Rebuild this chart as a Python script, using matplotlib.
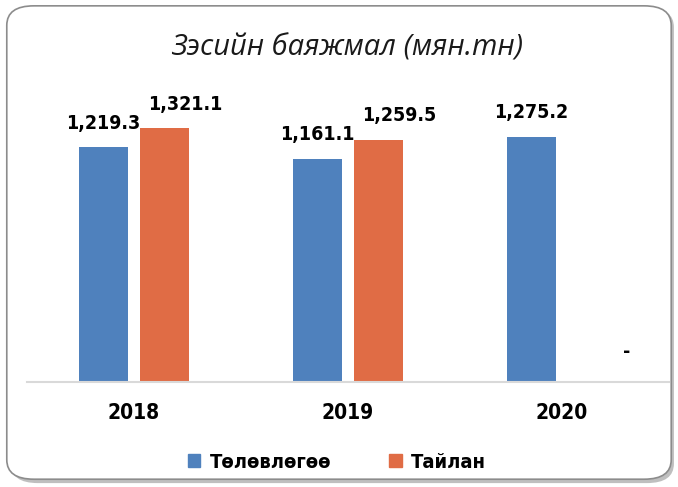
import matplotlib.pyplot as plt
import numpy as np
from matplotlib.patches import FancyBboxPatch, Patch

# data
years = ['2018', '2019', '2020']
plan = [1219.3, 1161.1, 1275.2]
report = [1321.1, 1259.5, 0.0]
report_labels = ['1,321.1', '1,259.5', '-']
plan_labels = ['1,219.3', '1,161.1', '1,275.2']

blue = '#4F81BD'
orange = '#E06C45'
font = ['DejaVu Sans']
cond = 'condensed'

fig = plt.figure(figsize=(6.78, 4.87), dpi=100)

# rounded frame with soft shadow
shadow = FancyBboxPatch((0.016, 0.008), 0.978, 0.976, boxstyle='round,pad=0,rounding_size=0.04',
                        transform=fig.transFigure, facecolor='#BFBFBF', edgecolor='none', zorder=-2)
frame = FancyBboxPatch((0.010, 0.016), 0.980, 0.972, boxstyle='round,pad=0,rounding_size=0.04',
                       transform=fig.transFigure, facecolor='white', edgecolor='#8C8C8C', lw=1.2, zorder=-1)
fig.patches.extend([shadow, frame])

ax = fig.add_axes([0.0398, 0.2156, 0.9469, 0.6324])
ax.set_zorder(2)
ax.set_facecolor('none')
x = np.arange(len(years))
w = 0.23
off = 0.142
ax.bar(x - off, plan, w, color=blue, zorder=2)
ax.bar(x + off, report, w, color=orange, zorder=2)

for i in range(len(years)):
    ax.annotate(plan_labels[i], (x[i] - off, plan[i]), xytext=(0, 17), textcoords='offset points',
                ha='center', va='center', fontsize=14, fontweight='bold', family=font, fontstretch=cond)
    dx = 25 if report[i] == 0 else 15
    dy = 22 if report[i] == 0 else 17
    ax.annotate(report_labels[i], (x[i] + off, report[i]), xytext=(dx, dy), textcoords='offset points',
                ha='center', va='center', fontsize=14, fontweight='bold', family=font, fontstretch=cond)

ax.set_xlim(-0.5, 2.5)
ax.set_ylim(0, 1600)
ax.set_yticks([])
ax.set_xticks(x)
ax.set_xticklabels(years, fontsize=15, fontweight='bold', family=font, fontstretch=cond)
ax.tick_params(axis='x', length=0, pad=15)
for s in ['top', 'right', 'left']:
    ax.spines[s].set_visible(False)
ax.spines['bottom'].set_color('#D9D9D9')
ax.spines['bottom'].set_linewidth(1.5)

fig.text(0.512, 0.902, 'Зэсийн баяжмал (мян.тн)', ha='center', va='center', fontsize=21,
         fontstyle='italic', family=['Open Sans', 'DejaVu Sans'], color='#1A1A1A')

handles = [Patch(color=blue, label='Төлөвлөгөө'), Patch(color=orange, label='Тайлан')]
fig.legend(handles=handles, loc='center', bbox_to_anchor=(0.497, 0.051), ncol=2, frameon=False,
           prop={'family': font, 'weight': 'bold', 'size': 14.5, 'stretch': cond}, handlelength=0.6,
           handleheight=0.65, handletextpad=0.45, columnspacing=2.9)

plt.savefig('out.png', dpi=100)
